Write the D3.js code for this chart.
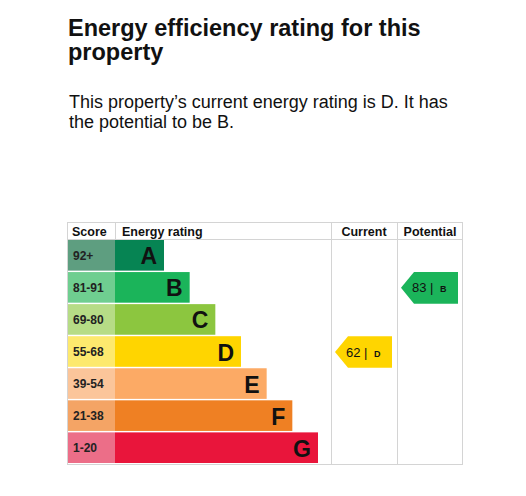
<!DOCTYPE html>
<html>
<head>
<meta charset="utf-8">
<script src="https://cdn.jsdelivr.net/npm/d3@7"></script>
<style>
  body { margin: 0; background: #fff; }
  svg { display: block; font-family: "Liberation Sans", Arial, sans-serif; }
</style>
</head>
<body>
<div id="chart-container"></div>
<script>
const ratings = ["A", "B", "C", "D", "E", "F", "G"];
const scoreLabels = ["92+", "81-91", "69-80", "55-68", "39-54", "21-38", "1-20"];
const barColors = ["#068453", "#1bb45a", "#8cc63f", "#ffd500", "#fcaa65", "#ef8023", "#e9153b"];
const scoreColors = ["#5e9e80", "#6fce90", "#b6dc86", "#fde96e", "#fbc59a", "#f4a465", "#ec6e88"];
const columns = ["Current", "Potential"];
const columnValues = [62, 83];
const columnRatings = ["D", "B"];

const main = function() {
  const svg = d3.select("#chart-container")
    .append("svg")
    .attr("width", 526)
    .attr("height", 496);

  // title + intro text
  svg.append("text").attr("x", 68).attr("y", 36)
    .style("font-size", "23.5px").style("font-weight", "bold").attr("fill", "#111")
    .text("Energy efficiency rating for this");
  svg.append("text").attr("x", 68).attr("y", 60)
    .style("font-size", "23.5px").style("font-weight", "bold").attr("fill", "#111")
    .text("property");
  svg.append("text").attr("x", 69).attr("y", 108)
    .style("font-size", "18px").attr("fill", "#111")
    .text("This property\u2019s current energy rating is D. It has");
  svg.append("text").attr("x", 69).attr("y", 128)
    .style("font-size", "18px").attr("fill", "#111")
    .text("the potential to be B.");

  const left = 67, right = 463, top = 222, headerBottom = 240, bottom = 465;
  const scoreRight = 115;

  const y = d3.scaleBand().domain(ratings).range([headerBottom, 463]).paddingInner(0.045);
  const barEnd = d3.scaleLinear().domain([0, ratings.length - 1]).range([164, 318]);
  const col = d3.scaleBand().domain(columns).range([331, right]);

  // table lines
  const lines = svg.append("g").attr("stroke", "#d4d4d4").attr("stroke-width", 1);
  lines.append("rect").attr("x", left + 0.5).attr("y", top + 0.5)
    .attr("width", right - left - 1).attr("height", bottom - top - 1).attr("fill", "none");
  lines.append("line").attr("x1", left).attr("x2", right).attr("y1", headerBottom - 0.5).attr("y2", headerBottom - 0.5);
  lines.append("line").attr("x1", scoreRight + 0.5).attr("x2", scoreRight + 0.5).attr("y1", top).attr("y2", headerBottom);
  columns.forEach(c => {
    lines.append("line").attr("x1", col(c) + 0.5).attr("x2", col(c) + 0.5).attr("y1", top).attr("y2", bottom);
  });

  // headers
  const head = svg.append("g").style("font-size", "12.5px").style("font-weight", "bold").attr("fill", "#111");
  head.append("text").attr("x", 72).attr("y", 236).text("Score");
  head.append("text").attr("x", 122).attr("y", 236).text("Energy rating");
  head.selectAll(null).data(columns).enter().append("text")
    .attr("x", c => col(c) + col.bandwidth() / 2).attr("y", 236)
    .attr("text-anchor", "middle").text(c => c);

  // score cells
  svg.selectAll(null).data(ratings).enter().append("rect")
    .attr("x", left + 1).attr("y", r => y(r))
    .attr("width", scoreRight - left - 1).attr("height", y.bandwidth())
    .attr("fill", (r, i) => scoreColors[i]);
  svg.selectAll(null).data(ratings).enter().append("text")
    .attr("x", 73).attr("y", r => y(r) + y.bandwidth() / 2 + 4.5)
    .style("font-size", "12px").style("font-weight", "bold").attr("fill", "#222")
    .text((r, i) => scoreLabels[i]);

  // bars
  svg.selectAll(null).data(ratings).enter().append("rect")
    .attr("x", scoreRight).attr("y", r => y(r))
    .attr("width", (r, i) => barEnd(i) - scoreRight).attr("height", y.bandwidth())
    .attr("fill", (r, i) => barColors[i]);
  svg.selectAll(null).data(ratings).enter().append("text")
    .attr("x", (r, i) => barEnd(i) - 7).attr("y", r => y(r) + y.bandwidth() / 2 + 9)
    .attr("text-anchor", "end")
    .style("font-size", "23px").style("font-weight", "bold").attr("fill", "#111")
    .text(r => r);

  // current / potential arrows
  const tip = 13;
  columns.forEach((c, i) => {
    const r = columnRatings[i];
    const x0 = col(c) + 4, x1 = x0 + 57;
    const y0 = y(r), h = y.bandwidth() + 1;
    const color = barColors[ratings.indexOf(r)];
    svg.append("path")
      .attr("d", `M${x0},${y0 + h / 2}L${x0 + tip},${y0}L${x1},${y0}L${x1},${y0 + h}L${x0 + tip},${y0 + h}Z`)
      .attr("fill", color);
    const t = svg.append("text").attr("x", x0 + 11).attr("y", y0 + h / 2 + 4.5)
      .attr("fill", "#111").style("font-size", "13px");
    t.append("tspan").text(columnValues[i] + " | ");
    t.append("tspan").style("font-size", "9px").style("font-weight", "bold").attr("dx", 3).text(r);
  });
};

window.onload = main;
</script>
</body>
</html>
